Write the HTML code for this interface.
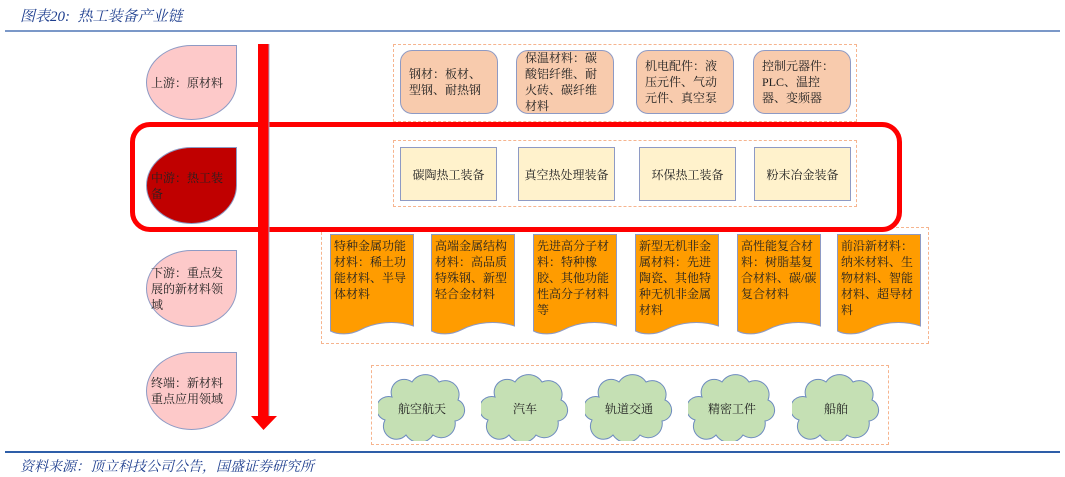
<!DOCTYPE html>
<html><head><meta charset="utf-8"><style>
body{margin:0;width:1065px;height:477px;background:#fff;position:relative;overflow:hidden;font-family:"Liberation Serif","Noto Serif CJK SC",serif;color:#222}
.a{position:absolute}
.drop{position:absolute;left:146px;width:91px;border-radius:50% 0 50% 50%;background:#fdc9c9;border:1px solid #8e9ac4;box-sizing:border-box;font-size:12px;line-height:16px;padding:0 4px;display:flex;align-items:center}
.dash{position:absolute;border:1.5px dashed #f6b48e;box-sizing:border-box}
.rb{position:absolute;top:50px;height:64px;width:98px;background:#f8cbad;border:1px solid #8e9ac4;border-radius:12px;box-sizing:border-box;font-size:12px;line-height:16px;padding:0 8px;display:flex;align-items:center}
.yb{position:absolute;top:147px;height:54px;width:97px;background:#fff2cc;border:1px solid #8e9ac4;box-sizing:border-box;font-size:12px;display:flex;align-items:center;justify-content:center}
.doc{position:absolute;top:234px;width:84px;height:102px}
.doc div{position:absolute;left:4px;top:4px;right:2px;font-size:12px;line-height:16px}
.cl{position:absolute;top:373px;width:88px;height:68px}
.cl span{position:absolute;left:0;right:0;top:27px;text-align:center;font-size:12px}
</style></head><body>
<div class="a" style="left:20px;top:5px;font-size:15px;font-style:italic;color:#1f3f8f">图表20:&nbsp; 热工装备产业链</div>
<div class="a" style="left:5px;top:30px;width:1055px;height:2px;background:#7b98c8"></div>

<div class="drop" style="top:45px;height:75px">上游：原材料</div>
<div class="drop" style="top:147px;height:77px;background:#c00000">中游：热工装备</div>
<div class="drop" style="top:250px;height:77px">下游：重点发展的新材料领域</div>
<div class="drop" style="top:352px;height:78px">终端：新材料重点应用领域</div>

<div class="dash" style="left:393px;top:44px;width:464px;height:78px"></div>
<div class="rb" style="left:400px">钢材：板材、型钢、耐热钢</div>
<div class="rb" style="left:516px">保温材料：碳酸铝纤维、耐火砖、碳纤维材料</div>
<div class="rb" style="left:636px">机电配件：液压元件、气动元件、真空泵</div>
<div class="rb" style="left:753px">控制元器件：PLC、温控器、变频器</div>

<div class="dash" style="left:393px;top:140px;width:464px;height:67px"></div>
<div class="yb" style="left:400px">碳陶热工装备</div>
<div class="yb" style="left:518px">真空热处理装备</div>
<div class="yb" style="left:639px">环保热工装备</div>
<div class="yb" style="left:754px">粉末冶金装备</div>

<div class="dash" style="left:321px;top:227px;width:608px;height:117px"></div>
<div class="doc" style="left:330px"><svg width="84" height="102"><path d="M0.5,0.5H83.5V92C65,86 45,88 30,96C20,101 8,101 0.5,97Z" fill="#ff9c00" stroke="#8e9ac4"/></svg><div>特种金属功能材料：稀土功能材料、半导体材料</div></div>
<div class="doc" style="left:431px"><svg width="84" height="102"><path d="M0.5,0.5H83.5V92C65,86 45,88 30,96C20,101 8,101 0.5,97Z" fill="#ff9c00" stroke="#8e9ac4"/></svg><div>高端金属结构材料：高品质特殊钢、新型轻合金材料</div></div>
<div class="doc" style="left:533px"><svg width="84" height="102"><path d="M0.5,0.5H83.5V92C65,86 45,88 30,96C20,101 8,101 0.5,97Z" fill="#ff9c00" stroke="#8e9ac4"/></svg><div>先进高分子材料：特种橡胶、其他功能性高分子材料等</div></div>
<div class="doc" style="left:635px"><svg width="84" height="102"><path d="M0.5,0.5H83.5V92C65,86 45,88 30,96C20,101 8,101 0.5,97Z" fill="#ff9c00" stroke="#8e9ac4"/></svg><div>新型无机非金属材料：先进陶瓷、其他特种无机非金属材料</div></div>
<div class="doc" style="left:737px"><svg width="84" height="102"><path d="M0.5,0.5H83.5V92C65,86 45,88 30,96C20,101 8,101 0.5,97Z" fill="#ff9c00" stroke="#8e9ac4"/></svg><div>高性能复合材料：树脂基复合材料、碳/碳复合材料</div></div>
<div class="doc" style="left:837px"><svg width="84" height="102"><path d="M0.5,0.5H83.5V92C65,86 45,88 30,96C20,101 8,101 0.5,97Z" fill="#ff9c00" stroke="#8e9ac4"/></svg><div>前沿新材料：纳米材料、生物材料、智能材料、超导材料</div></div>

<div class="dash" style="left:371px;top:365px;width:518px;height:80px"></div>
<div class="cl" style="left:378px"><svg width="88" height="68"><path d="M14,24A13,13 0 0 1 34,9A16,16 0 0 1 61,9A14,14 0 0 1 80,27A11,11 0 0 1 77,48A14,14 0 0 1 55,62A16,16 0 0 1 28,62A13,13 0 0 1 7,47A12,12 0 0 1 14,24Z" fill="#c5e0b4" stroke="#6d8bbf"/></svg><span>航空航天</span></div>
<div class="cl" style="left:481px"><svg width="88" height="68"><path d="M14,24A13,13 0 0 1 34,9A16,16 0 0 1 61,9A14,14 0 0 1 80,27A11,11 0 0 1 77,48A14,14 0 0 1 55,62A16,16 0 0 1 28,62A13,13 0 0 1 7,47A12,12 0 0 1 14,24Z" fill="#c5e0b4" stroke="#6d8bbf"/></svg><span>汽车</span></div>
<div class="cl" style="left:585px"><svg width="88" height="68"><path d="M14,24A13,13 0 0 1 34,9A16,16 0 0 1 61,9A14,14 0 0 1 80,27A11,11 0 0 1 77,48A14,14 0 0 1 55,62A16,16 0 0 1 28,62A13,13 0 0 1 7,47A12,12 0 0 1 14,24Z" fill="#c5e0b4" stroke="#6d8bbf"/></svg><span>轨道交通</span></div>
<div class="cl" style="left:688px"><svg width="88" height="68"><path d="M14,24A13,13 0 0 1 34,9A16,16 0 0 1 61,9A14,14 0 0 1 80,27A11,11 0 0 1 77,48A14,14 0 0 1 55,62A16,16 0 0 1 28,62A13,13 0 0 1 7,47A12,12 0 0 1 14,24Z" fill="#c5e0b4" stroke="#6d8bbf"/></svg><span>精密工件</span></div>
<div class="cl" style="left:792px"><svg width="88" height="68"><path d="M14,24A13,13 0 0 1 34,9A16,16 0 0 1 61,9A14,14 0 0 1 80,27A11,11 0 0 1 77,48A14,14 0 0 1 55,62A16,16 0 0 1 28,62A13,13 0 0 1 7,47A12,12 0 0 1 14,24Z" fill="#c5e0b4" stroke="#6d8bbf"/></svg><span>船舶</span></div>

<div class="a" style="left:130px;top:122px;width:772px;height:110px;border:5px solid #ff0000;border-radius:20px;box-sizing:border-box"></div>
<svg class="a" style="left:250px;top:44px" width="28" height="388"><path d="M8,0H19V372H27L13.5,386L1,372H8Z" fill="#ff0000"/><path d="M19,0V372" stroke="#a0a8c8" stroke-width="1"/></svg>

<div class="a" style="left:5px;top:451px;width:1055px;height:2px;background:#2e5ea8"></div>
<div class="a" style="left:20px;top:456px;font-size:14px;font-style:italic;color:#1f3f8f">资料来源：顶立科技公司公告，国盛证券研究所</div>
</body></html>
